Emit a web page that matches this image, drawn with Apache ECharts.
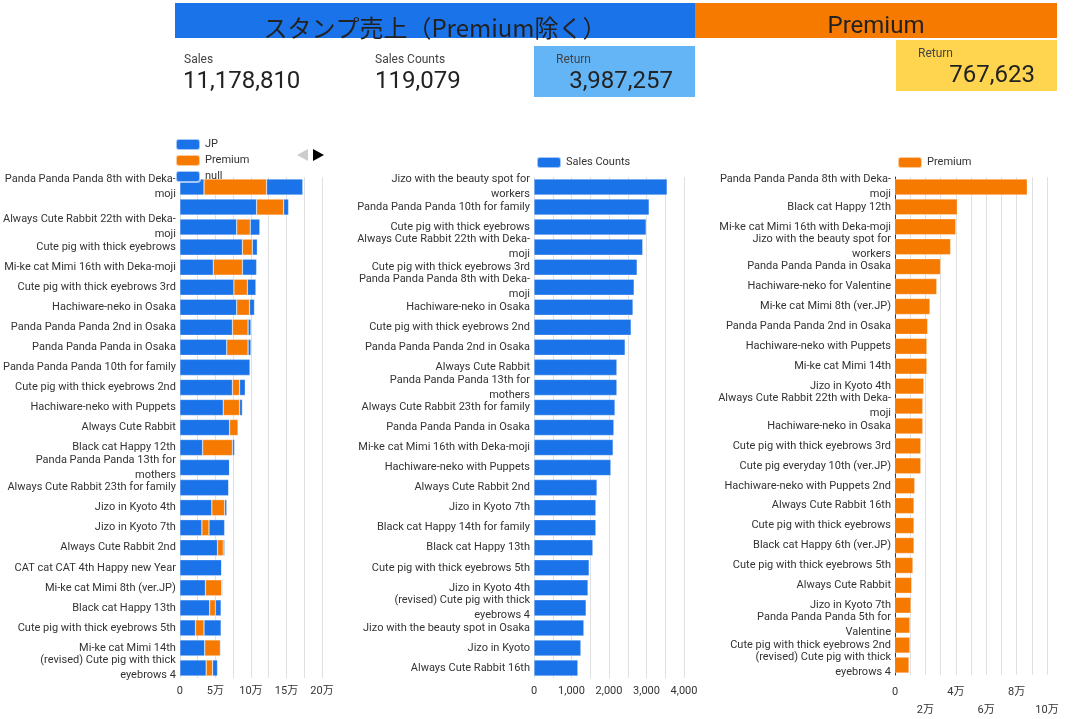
<!DOCTYPE html>
<html><head><meta charset="utf-8">
<script src="https://cdn.jsdelivr.net/npm/echarts@6/dist/echarts.min.js"></script>
<style>html,body{margin:0;padding:0;background:#fff}#c{width:1076px;height:719px}</style>
</head><body><div id="c"></div>
<script>
const leftCats = ["Panda Panda Panda 8th with Deka-\nmoji","","Always Cute Rabbit 22th with Deka-\nmoji","Cute pig with thick eyebrows","Mi-ke cat Mimi 16th with Deka-moji","Cute pig with thick eyebrows 3rd","Hachiware-neko in Osaka","Panda Panda Panda 2nd in Osaka","Panda Panda Panda in Osaka","Panda Panda Panda 10th for family","Cute pig with thick eyebrows 2nd","Hachiware-neko with Puppets","Always Cute Rabbit","Black cat Happy 12th","Panda Panda Panda 13th for\nmothers","Always Cute Rabbit 23th for family","Jizo in Kyoto 4th","Jizo in Kyoto 7th","Always Cute Rabbit 2nd","CAT cat CAT 4th Happy new Year","Mi-ke cat Mimi 8th (ver.JP)","Black cat Happy 13th","Cute pig with thick eyebrows 5th","Mi-ke cat Mimi 14th","(revised) Cute pig with thick\neyebrows 4"];
const leftJP      = [34000,108000,80000,88000,47000,76000,80000,74000,66000,99000,74000,61000,70000,32000,70000,69000,45000,31000,53000,59000,36000,42000,22000,35000,37000];
const leftPremium = [88000,38000,19000,14000,41000,19000,18000,22000,30000,0,10000,23000,12000,42000,0,0,18000,10000,8000,0,23000,8000,12000,22000,9000];
const leftNull    = [51000,7000,13500,7000,20000,12000,7000,4000,4000,0,8000,4000,0,3000,0,0,3000,22000,2000,0,1000,8000,24000,1000,7000];

const midCats = ["Jizo with the beauty spot for\nworkers","Panda Panda Panda 10th for family","Cute pig with thick eyebrows","Always Cute Rabbit 22th with Deka-\nmoji","Cute pig with thick eyebrows 3rd","Panda Panda Panda 8th with Deka-\nmoji","Hachiware-neko in Osaka","Cute pig with thick eyebrows 2nd","Panda Panda Panda 2nd in Osaka","Always Cute Rabbit","Panda Panda Panda 13th for\nmothers","Always Cute Rabbit 23th for family","Panda Panda Panda in Osaka","Mi-ke cat Mimi 16th with Deka-moji","Hachiware-neko with Puppets","Always Cute Rabbit 2nd","Jizo in Kyoto 7th","Black cat Happy 14th for family","Black cat Happy 13th","Cute pig with thick eyebrows 5th","Jizo in Kyoto 4th","(revised) Cute pig with thick\neyebrows 4","Jizo with the beauty spot in Osaka","Jizo in Kyoto","Always Cute Rabbit 16th"];
const midCounts = [3550,3070,2990,2900,2750,2670,2640,2590,2430,2210,2210,2160,2130,2110,2050,1680,1650,1650,1570,1470,1440,1390,1330,1250,1170];

const rightCats = ["Panda Panda Panda 8th with Deka-\nmoji","Black cat Happy 12th","Mi-ke cat Mimi 16th with Deka-moji","Jizo with the beauty spot for\nworkers","Panda Panda Panda in Osaka","Hachiware-neko for Valentine","Mi-ke cat Mimi 8th (ver.JP)","Panda Panda Panda 2nd in Osaka","Hachiware-neko with Puppets","Mi-ke cat Mimi 14th","Jizo in Kyoto 4th","Always Cute Rabbit 22th with Deka-\nmoji","Hachiware-neko in Osaka","Cute pig with thick eyebrows 3rd","Cute pig everyday 10th (ver.JP)","Hachiware-neko with Puppets 2nd","Always Cute Rabbit 16th","Cute pig with thick eyebrows","Black cat Happy 6th (ver.JP)","Cute pig with thick eyebrows 5th","Always Cute Rabbit","Jizo in Kyoto 7th","Panda Panda Panda 5th for\nValentine","Cute pig with thick eyebrows 2nd","(revised) Cute pig with thick\neyebrows 4"];
const rightPremium = [87000,41000,40000,36600,30000,27500,23000,21500,21000,21000,19000,18300,18300,17000,17000,13000,12500,12500,12500,11800,11000,10500,9800,9800,9200];

const BLUE='#1a73e8', ORANGE='#f77a00';
const chart = echarts.init(document.getElementById('c'));
const man = v => v===0 ? '0' : (v/10000)+'万';
const catAxis = (gi, cats) => ({type:'category', gridIndex:gi, data:cats, inverse:true,
  axisLine:{show:gi===2, lineStyle:{color:'#333'}}, axisTick:{show:false},
  axisLabel:{color:'#333', fontSize:11, lineHeight:15, margin:4, interval:0}});
const valSplit = {show:true, lineStyle:{color:'#e0e0e0'}};
const barBase = {type:'bar', barCategoryWidth:null, barWidth:'80%', itemStyle:{borderColor:'rgba(255,255,255,0.6)', borderWidth:0.5}};
chart.setOption({
  animation:false,
  textStyle:{fontFamily:'Roboto, "Noto Sans CJK JP", sans-serif'},
  grid:[
    {left:174, width:148, top:177, height:501},
    {left:534, width:150, top:177, height:501},
    {left:895, width:152, top:177, height:501}
  ],
  xAxis:[
    {type:'value', gridIndex:0, min:0, max:200000, interval:25000, splitLine:valSplit, axisLine:{show:false}, axisTick:{show:false},
     axisLabel:{color:'#333', fontSize:11, formatter:v=> v%50000===0 ? man(v) : ''}},
    {type:'value', gridIndex:1, min:0, max:4000, interval:500, splitLine:valSplit, axisLine:{show:false}, axisTick:{show:false},
     axisLabel:{color:'#333', fontSize:11, formatter:v=> v%1000===0 ? v.toLocaleString('en-US') : ''}},
    {type:'value', gridIndex:2, min:0, max:100000, interval:10000, splitLine:valSplit, axisLine:{show:false}, axisTick:{show:false},
     axisLabel:{color:'#333', fontSize:11, lineHeight:18, formatter:v=> v%20000!==0 ? '' : ((v/20000)%2===1 ? '\n'+man(v) : man(v))}}
  ],
  yAxis:[catAxis(0,leftCats), catAxis(1,midCats), catAxis(2,rightCats)],
  legend:[
    {left:170, top:133, orient:'vertical', itemWidth:24, itemHeight:11, itemGap:3, textStyle:{color:'#333',fontSize:11}, data:['JP','Premium','null']},
    {left:531, top:151, itemWidth:24, itemHeight:11, textStyle:{color:'#333',fontSize:11}, data:['Sales Counts']},
    {left:892, top:151, itemWidth:24, itemHeight:11, textStyle:{color:'#333',fontSize:11}, data:[{name:'Premium '}]}
  ],
  series:[
    Object.assign({}, barBase, {name:'JP', stack:'a', xAxisIndex:0, yAxisIndex:0, data:leftJP, itemStyle:Object.assign({},barBase.itemStyle,{color:BLUE})}),
    Object.assign({}, barBase, {name:'Premium', stack:'a', xAxisIndex:0, yAxisIndex:0, data:leftPremium, itemStyle:Object.assign({},barBase.itemStyle,{color:ORANGE})}),
    Object.assign({}, barBase, {name:'null', stack:'a', xAxisIndex:0, yAxisIndex:0, data:leftNull, itemStyle:Object.assign({},barBase.itemStyle,{color:BLUE})}),
    Object.assign({}, barBase, {name:'Sales Counts', xAxisIndex:1, yAxisIndex:1, data:midCounts, itemStyle:Object.assign({},barBase.itemStyle,{color:BLUE})}),
    Object.assign({}, barBase, {name:'Premium ', xAxisIndex:2, yAxisIndex:2, data:rightPremium, itemStyle:Object.assign({},barBase.itemStyle,{color:ORANGE})})
  ],
  graphic:[
    {type:'rect', shape:{x:175,y:3,width:520,height:35}, style:{fill:BLUE}},
    {type:'rect', shape:{x:695,y:3,width:362,height:35}, style:{fill:ORANGE}},
    {type:'text', x:435, y:28, style:{text:'スタンプ売上（Premium除く）', fill:'#222', font:'24px "Noto Sans CJK JP", sans-serif', align:'center', verticalAlign:'middle'}},
    {type:'text', x:876, y:27, style:{text:'Premium', fill:'#222', font:'24px Roboto, sans-serif', align:'center', verticalAlign:'middle'}},
    {type:'text', x:184, y:54, style:{text:'Sales', fill:'#444', font:'12px Roboto, sans-serif'}},
    {type:'text', x:183, y:70, style:{text:'11,178,810', fill:'#222', font:'24px Roboto, sans-serif'}},
    {type:'text', x:375, y:54, style:{text:'Sales Counts', fill:'#444', font:'12px Roboto, sans-serif'}},
    {type:'text', x:375, y:70, style:{text:'119,079', fill:'#222', font:'24px Roboto, sans-serif'}},
    {type:'rect', shape:{x:534,y:46,width:161,height:51}, style:{fill:'#64b5f6'}},
    {type:'text', x:556, y:54, style:{text:'Return', fill:'#444', font:'12px Roboto, sans-serif'}},
    {type:'text', x:673, y:70, style:{text:'3,987,257', fill:'#222', font:'24px Roboto, sans-serif', align:'right'}},
    {type:'rect', shape:{x:896,y:40,width:161,height:51}, style:{fill:'#ffd54f'}},
    {type:'text', x:918, y:48, style:{text:'Return', fill:'#444', font:'12px Roboto, sans-serif'}},
    {type:'text', x:1035, y:64, style:{text:'767,623', fill:'#222', font:'24px Roboto, sans-serif', align:'right'}},
    {type:'polygon', shape:{points:[[308,149],[297,155],[308,161]]}, style:{fill:'#ccc'}},
    {type:'polygon', shape:{points:[[313,149],[324,155],[313,161]]}, style:{fill:'#000'}}
  ]
});
</script></body></html>
